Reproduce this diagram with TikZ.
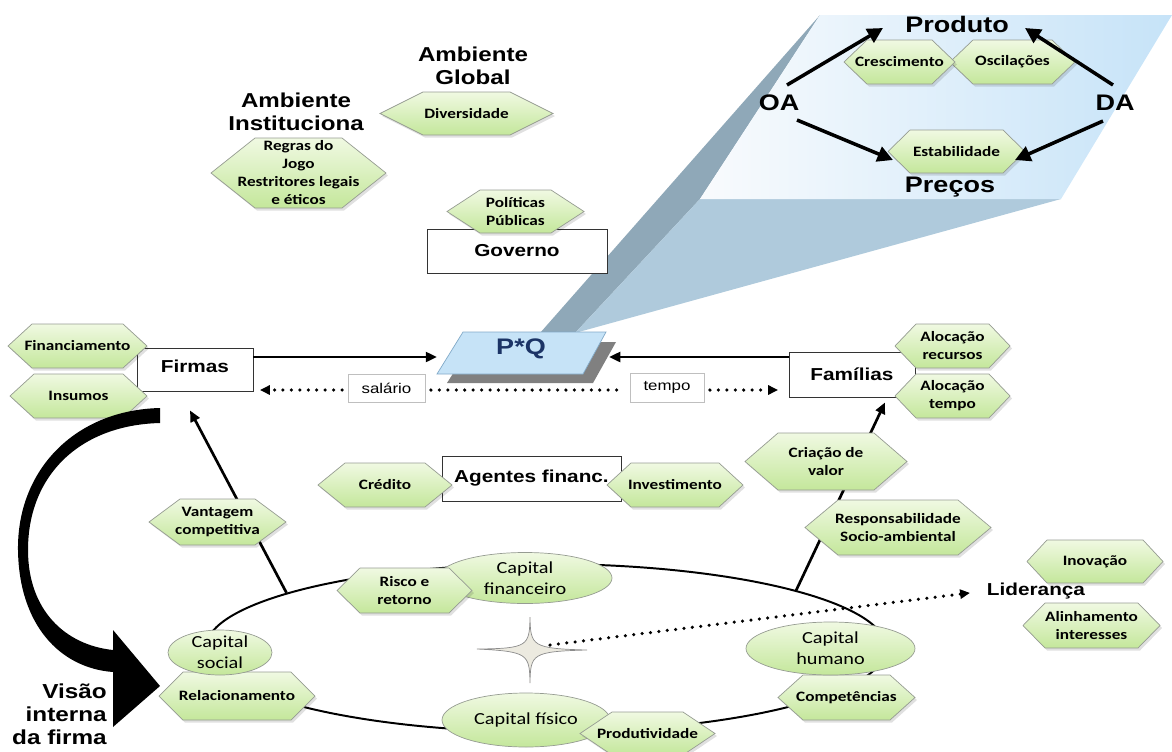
\documentclass[tikz,border=0pt]{standalone}
\usepackage{fontspec}
\setmainfont{Liberation Sans}[FakeStretch=1.2]
\newfontfamily\calib{Carlito}[FakeStretch=1.2]
\usetikzlibrary{arrows.meta,shapes.geometric}

\definecolor{hexTop}{RGB}{240,249,226}
\definecolor{hexBot}{RGB}{196,231,155}
\definecolor{hexLine}{RGB}{150,156,146}
\definecolor{bandDark}{RGB}{143,168,184}
\definecolor{bandLight}{RGB}{175,202,220}
\definecolor{panelL}{RGB}{249,251,253}
\definecolor{panelR}{RGB}{198,227,248}
\definecolor{pqBlue}{RGB}{198,227,247}
\definecolor{pqLine}{RGB}{130,170,200}
\definecolor{pqNavy}{RGB}{28,52,102}
\definecolor{starFill}{RGB}{236,234,224}

\tikzset{
  hexbox/.style={draw=hexLine, line width=0.5pt, top color=hexTop, bottom color=hexBot},
  hexshadow/.style={fill=black, opacity=0.12},
  hexlabel/.style={font={\calib\bfseries\fontsize{10.2}{12.8}\selectfont}, align=center, inner sep=1pt},
  capbox/.style={draw=hexLine, line width=0.5pt, top color=hexTop, bottom color=hexBot},
  caplabel/.style={font={\calib\fontsize{12}{15}\selectfont}, align=center, inner sep=1pt},
  agent/.style={draw=black!80, fill=white, line width=0.6pt, font={\bfseries\fontsize{12.3}{14}\selectfont}, inner sep=0pt},
  flowbox/.style={draw=black!25, fill=white, line width=0.5pt, font={\fontsize{10}{12}\selectfont}, inner sep=0pt},
  title/.style={font={\bfseries\fontsize{14.3}{16}\selectfont}, align=center, inner sep=1pt},
  bigtitle/.style={font={\bfseries\fontsize{16}{18}\selectfont}, inner sep=1pt},
  flow/.style={-{Triangle[length=8pt,width=7pt]}, line width=1.9pt},
  bigflow/.style={-{Triangle[length=11pt,width=11pt]}, line width=2.5pt},
  dots/.style={line width=2.5pt, line cap=round, dash pattern=on 0pt off 6pt},
  dotflow/.style={dots, -{Triangle[length=7pt,width=6.5pt]}},
}

% name, x, y, half width, half height, point depth, text
\newcommand{\hexnode}[7]{%
  \fill[hexshadow] ({#2-#4+2},{#3+2.5}) -- ({#2-#4+#6+2},{#3-#5+2.5}) -- ({#2+#4-#6+2},{#3-#5+2.5}) -- ({#2+#4+2},{#3+2.5}) -- ({#2+#4-#6+2},{#3+#5+2.5}) -- ({#2-#4+#6+2},{#3+#5+2.5}) -- cycle;
  \path[hexbox] ({#2-#4},#3) -- ({#2-#4+#6},{#3-#5}) -- ({#2+#4-#6},{#3-#5}) -- ({#2+#4},#3) -- ({#2+#4-#6},{#3+#5}) -- ({#2-#4+#6},{#3+#5}) -- cycle;
  \node[hexlabel] (#1) at (#2,#3) {#7};}

\begin{document}
\begin{tikzpicture}[x=0.025cm,y=-0.025cm]
\useasboundingbox (0,0) rectangle (1172,751);

% zoom panel
\fill[bandDark] (820,15) -- (700,199) -- (575,333) -- (540,333) -- cycle;
\fill[bandLight] (700,199) -- (1061,199) -- (575,333) -- cycle;
\shade[left color=panelL, right color=panelR] (820,15) -- (1172,15) -- (1061,199) -- (700,199) -- cycle;

% P*Q
\fill[black!50] (473,342) -- (616,342) -- (593,383) -- (447,383) -- cycle;
\filldraw[fill=pqBlue, draw=pqLine, line width=0.5pt] (463,332) -- (606,332) -- (583,374) -- (437,374) -- cycle;
\node[bigtitle, text=pqNavy] (pq) at (521,349) {P*Q};
\coordinate (pqL) at (437,357);
\coordinate (pqR) at (609,357);

% OA / DA
\node[bigtitle] (prod) at (957,24) {Produto};
\node[bigtitle] (prec) at (950,187) {Preços};
\node[bigtitle] (oa) at (779,103) {OA};
\node[bigtitle] (da) at (1115,103) {DA};
\hexnode{osc}{1012.5}{62}{62.5}{22}{23}{Oscilações}
\hexnode{cre}{899.5}{62}{55.5}{22}{23}{Crescimento}
\hexnode{est}{956.5}{151.5}{68.5}{21.5}{22}{Estabilidade}
\draw[bigflow] ([shift={(8,-18)}]oa.center) -- ([shift={(-74,4)}]prod.center);
\draw[bigflow] ([shift={(-2,-18)}]da.center) -- ([shift={(68,4)}]prod.center);
\draw[bigflow] ([shift={(18,17)}]oa.center) -- ([shift={(-63.5,8.5)}]est.center);
\draw[bigflow] ([shift={(-12,18)}]da.center) -- ([shift={(58.5,8.5)}]est.center);

% ambientes
\node[title] (ambg) at (473,66) {Ambiente\\Global};
\node[title] (ambi) at (296,112) {Ambiente\\Instituciona};
\hexnode{reg}{298.5}{173}{87.5}{35}{44}{Regras do\\Jogo\\Restritores legais\\e éticos}
\hexnode{div}{466.5}{113.5}{86.5}{21.5}{43}{Diversidade}

% governo
\node[agent, minimum width=4.5cm, minimum height=1.1cm] (gov) at (517,251) {Governo};
\hexnode{pol}{515.5}{211.5}{68.5}{21.5}{33}{Políticas\\Públicas}

% firmas e familias
\node[agent, minimum width=2.9cm, minimum height=1.075cm, text depth=0.18cm] (firm) at (195,369.5) {Firmas};
\node[agent, minimum width=3.15cm, minimum height=1.125cm] (fam) at (852,374.5) {Famílias};
\hexnode{fin}{77.5}{346}{69.5}{22}{24}{Financiamento}
\hexnode{ins}{78.5}{396}{68.5}{22}{24}{Insumos}
\hexnode{alr}{952.5}{346}{57.5}{22}{21}{Alocação\\recursos}
\hexnode{alt}{952.5}{396}{57.5}{22}{21}{Alocação\\tempo}
\draw[flow] (firm.east |- pqL) -- (pqL);
\draw[flow] (fam.west |- pqR) -- (pqR);

\node[flowbox, minimum width=1.925cm, minimum height=0.7cm] (sal) at (386.5,388) {salário};
\node[flowbox, minimum width=1.85cm, minimum height=0.725cm] (tmp) at (667,387.5) {tempo};
\coordinate (dl) at (260,390);
\coordinate (dr) at (778,390);
\draw[dotflow, shorten <=4pt] (sal.west |- dl) -- (dl);
\draw[dots, shorten <=4pt, shorten >=4pt] (sal.east |- dl) -- (tmp.west |- dl);
\draw[dotflow, shorten <=4pt] (tmp.east |- dr) -- (dr);

% agentes financeiros
\node[agent, minimum width=4.475cm, minimum height=1.125cm] (agf) at (531.5,478.5) {Agentes financ.};
\hexnode{crd}{385}{485}{67}{22}{27}{Crédito}
\hexnode{inv}{675}{485}{68}{22}{24}{Investimento}

% visao interna
\node[ellipse, draw, line width=1.4pt, minimum width=17cm, minimum height=4.2cm, inner sep=0pt] (ring) at (546,648) {};
\draw[flow] (ring.168) -- ([shift={(-5,19)}]firm.south);
\draw[flow] (ring.13) -- ([shift={(33,5)}]fam.south);
\hexnode{van}{217.5}{522}{68.5}{23}{31}{Vantagem\\competitiva}
\hexnode{cri}{826}{461.5}{81}{28.5}{33}{Criação de\\valor}
\hexnode{res}{898}{527.5}{93}{27.5}{33}{Responsabilidade\\Socio-ambiental}

\hexnode{rel}{237}{696}{78}{24}{24}{Relacionamento}
\hexnode{com}{846.5}{697.5}{68.5}{22.5}{25}{Competências}
\path[capbox] (220,652.5) ellipse [x radius=52, y radius=22.5];
\node[caplabel] (csoc) at (220,652.5) {Capital\\social};
\path[capbox] (830.5,648.5) ellipse [x radius=84.5, y radius=26.5];
\node[caplabel] (chum) at (830.5,648.5) {Capital\\humano};
\path[capbox] (525,578) ellipse [x radius=87, y radius=25.5];
\node[caplabel] (cfin) at (525,578) {Capital\\financeiro};
\path[capbox] (526,720) ellipse [x radius=84, y radius=27];
\node[caplabel] (cfis) at (526,720) {Capital físico};
\hexnode{ris}{404.5}{590.5}{67.5}{22.5}{23}{Risco e\\retorno}
\hexnode{pro}{647.5}{733.5}{67.5}{21.5}{32}{Produtividade}

% lideranca
\coordinate (star) at (530,649);
\filldraw[fill=starFill, draw=black!45, line width=0.5pt] (477,649) .. controls (528,648.5) and (529.5,646) .. (530,617) .. controls (530.5,646) and (532,648.5) .. (587,650) .. controls (532,651.5) and (530.5,654) .. (530,683) .. controls (529.5,654) and (528,651.5) .. (477,649) -- cycle;
\node[font={\bfseries\fontsize{12.3}{14}\selectfont}, inner sep=1pt] (lid) at (1036,591) {Liderança};
\draw[dotflow, shorten >=11pt] ([shift={(20,-4)}]star) -- (lid.west);
\hexnode{ino}{1095}{561.5}{68}{21.5}{20}{Inovação}
\hexnode{ali}{1091.5}{625.5}{68.5}{22.5}{22}{Alinhamento\\interesses}

% seta grande
\fill[black] (160,408) .. controls (75,410) and (17,470) .. (18,550) .. controls (19,625) and (60,668) .. (113,672) -- (113,727) -- (160,686) -- (113,630) -- (113,650) .. controls (65,645) and (28,610) .. (28,550) .. controls (28,475) and (80,425) .. (160,423) -- cycle;
\node[font={\bfseries\fontsize{14.4}{16.4}\selectfont}, align=right, anchor=east, inner sep=0pt] (vis) at (107,714) {Visão\\interna\\da firma};
\end{tikzpicture}
\end{document}
